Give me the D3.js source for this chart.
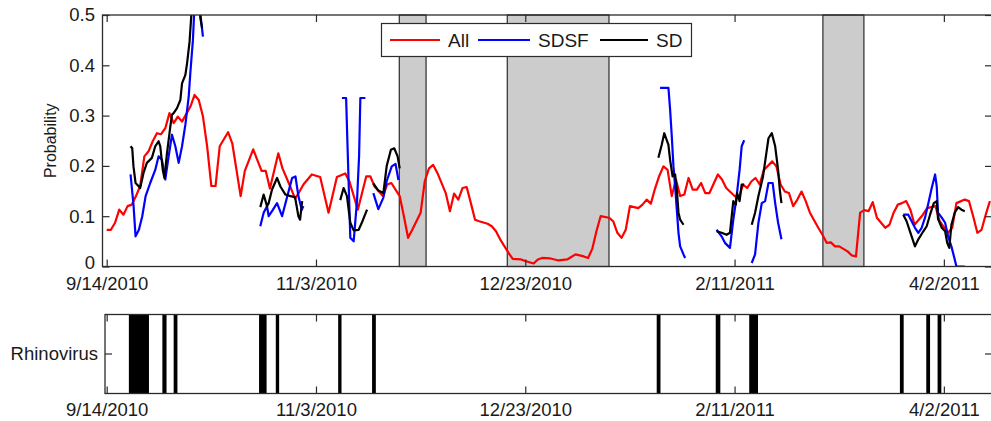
<!DOCTYPE html>
<html><head><meta charset="utf-8">
<script src="https://cdn.jsdelivr.net/npm/d3@7"></script>
<style>
body{margin:0;background:#fff;}
svg{display:block;}
text{font-family:"Liberation Sans",Arial,sans-serif;fill:#1a1a1a;}
</style>
</head><body>
<svg id="chart" width="991" height="421"></svg>
<script>
// ---- data (days are offsets from 9/14/2010) ----
const startDate = Date.UTC(2010, 8, 14);
const tickDays = [0, 50, 100, 150, 200];
const yTicks = [0, 0.1, 0.2, 0.3, 0.4, 0.5];
const shadeStart = [69.9, 95.7, 171.1];
const shadeEnd = [76.3, 120.0, 180.9];

const allDay = [0,1,2,3,4,5,6,7,8,9,10,11,12,13,14,15,16,17,18,20,21,22,23,24,25,26,27,29,30,32,33,35,37,38,39,41,42,44,45,46,47,49,51,53,55,57,58,60,62,63,64,66,67,68,70,71,72,73,75,76,77,78,79,81,82,83,84,85,86,87,88,89,91,92,93,94,96,97,99,100,102,103,104,106,108,110,112,114,115,116,117,118,120,121,122,123,124,125,127,128,129,130,131,132,133,134,135,136,137,138,139,140,141,142,143,144,146,147,148,150,151,152,153,154,155,156,157,159,160,161,162,163,164,165,166,167,168,170,171,172,173,174,175,177,178,179,180,181,182,183,184,186,187,188,189,190,191,192,193,195,196,198,199,201,202,203,205,206,207,208,209,210,211];
const allVal = [0.073,0.073,0.087,0.113,0.103,0.12,0.123,0.14,0.16,0.219,0.229,0.249,0.265,0.263,0.275,0.305,0.285,0.298,0.288,0.318,0.341,0.331,0.298,0.239,0.16,0.16,0.239,0.267,0.245,0.14,0.19,0.233,0.19,0.19,0.155,0.225,0.195,0.156,0.135,0.148,0.163,0.183,0.178,0.107,0.178,0.185,0.169,0.113,0.179,0.179,0.159,0.14,0.163,0.166,0.14,0.1,0.057,0.073,0.107,0.17,0.195,0.202,0.186,0.146,0.11,0.145,0.133,0.156,0.158,0.126,0.093,0.09,0.085,0.08,0.07,0.054,0.027,0.015,0.014,0.011,0.006,0.014,0.017,0.016,0.012,0.014,0.024,0.02,0.017,0.035,0.07,0.1,0.097,0.09,0.067,0.057,0.073,0.12,0.116,0.123,0.133,0.125,0.155,0.18,0.199,0.192,0.14,0.173,0.14,0.143,0.176,0.153,0.153,0.166,0.146,0.146,0.183,0.173,0.156,0.14,0.136,0.163,0.156,0.169,0.176,0.163,0.192,0.209,0.199,0.163,0.149,0.146,0.12,0.133,0.149,0.13,0.107,0.077,0.063,0.047,0.048,0.04,0.04,0.03,0.022,0.02,0.107,0.112,0.11,0.128,0.097,0.077,0.083,0.107,0.123,0.126,0.13,0.113,0.083,0.103,0.116,0.12,0.09,0.067,0.077,0.126,0.133,0.13,0.1,0.067,0.073,0.103,0.13];

// NaN separates the unconnected stretches of a series
const sdsfDay = [5.7,6.4,6.9,7.7,8.5,9.3,10.4,11.6,12.4,13.2,14.0,14.8,15.6,16.4,17.2,18.0,18.8,19.6,20.0,20.6,21.2,22.0,22.4,23.0, 30,
  36.7,37.5,38.3,38.7,39.5,40.7,41.9,43.1,44.3,45.1,45.8,46.6,47.0, 50,
  56.2,57.2,57.5,58.2,59.0,59.8,60.3,60.6,61.8, 62.5,
  63.7,64.9,66.1,66.9,68.1,69.0,69.7, 100,
  132.2,134.2,134.6,135.0,135.4,135.8,136.2,136.6,137.0,137.8,138.2, 140,
  145.7,146.9,147.7,148.9,149.7,150.5,151.2,151.7,152.3, 153,
  154.1,154.9,155.7,156.5,157.3,158.1,159.1,159.7,160.4,161.2, 180,
  190.3,191.5,192.3,193.1,193.9,194.7,195.5,196.3,197.1,197.9,198.3,198.6,199.5,200.3,201.0,201.8,202.6,203.0,205.0];
const sdsfVal = [0.183,0.123,0.06,0.073,0.1,0.14,0.166,0.192,0.219,0.212,0.173,0.219,0.262,0.239,0.206,0.239,0.282,0.338,0.387,0.45,0.56,0.56,0.5,0.457, NaN,
  0.08,0.107,0.12,0.1,0.11,0.126,0.1,0.138,0.176,0.179,0.14,0.113,0.12, NaN,
  0.335,0.335,0.25,0.057,0.05,0.13,0.22,0.335,0.335, NaN,
  0.146,0.114,0.137,0.17,0.199,0.204,0.172, NaN,
  0.355,0.355,0.312,0.259,0.199,0.159,0.113,0.067,0.04,0.024,0.017, NaN,
  0.073,0.06,0.047,0.037,0.093,0.14,0.192,0.239,0.251, NaN,
  0.007,0.024,0.087,0.126,0.13,0.166,0.166,0.126,0.087,0.054, NaN,
  0.103,0.103,0.09,0.077,0.067,0.077,0.097,0.126,0.156,0.183,0.159,0.107,0.097,0.087,0.06,0.04,0.014,0.0,0.0];

const sdDay = [5.7,6.1,6.4,6.9,7.7,8.0,8.8,9.6,10.8,11.6,12.4,12.8,13.4,13.8,14.4,15.2,15.6,16.0,16.8,17.6,18.0,18.8,19.2,19.8,20.2,20.6,21.8,22.4,22.8, 30,
  36.7,37.5,38.3,38.7,39.5,40.7,41.5,42.7,43.9,45.0,45.8,46.2,46.7, 50,
  55.8,56.6,57.4,58.2,59.0,60.2,61.0,62.2, 63,
  63.7,64.9,66.1,66.9,67.9,68.7,69.5,70.0, 100,
  131.8,132.6,133.2,134.2,134.6,135.2,135.8,136.2,136.6,137.0,137.8, 140,
  145.7,146.9,148.1,148.9,149.7,150.3,150.6,151.2,151.7,152.3, 153,
  154.1,154.9,155.7,156.8,157.6,158.1,158.9,159.7,160.4,160.8,161.2, 180,
  190.3,191.1,191.9,193.1,193.9,195.1,195.9,196.7,197.6,198.3,198.6,199.5,200.3,200.8,201.3,201.8,202.6,203.4,204.2,205.0];
const sdVal = [0.239,0.235,0.199,0.166,0.159,0.156,0.186,0.206,0.216,0.239,0.249,0.239,0.192,0.176,0.225,0.278,0.302,0.305,0.315,0.331,0.364,0.381,0.404,0.447,0.497,0.56,0.56,0.493,0.474, NaN,
  0.118,0.143,0.12,0.126,0.153,0.176,0.159,0.143,0.14,0.138,0.1,0.093,0.13, NaN,
  0.132,0.156,0.14,0.087,0.072,0.073,0.088,0.113, NaN,
  0.165,0.151,0.146,0.2,0.232,0.235,0.219,0.195, NaN,
  0.216,0.242,0.265,0.242,0.212,0.179,0.183,0.153,0.107,0.093,0.083, NaN,
  0.07,0.067,0.063,0.067,0.13,0.123,0.146,0.13,0.163,0.163, NaN,
  0.083,0.107,0.14,0.179,0.226,0.255,0.265,0.239,0.192,0.153,0.126, NaN,
  0.103,0.09,0.07,0.04,0.054,0.07,0.08,0.103,0.126,0.13,0.095,0.077,0.07,0.047,0.037,0.083,0.107,0.118,0.113,0.11];

const rhinoStart = [5.3, 13.3, 16.0, 36.4, 40.4, 55.3, 63.4, 131.4, 145.5, 153.5, 189.5, 195.8, 198.5];
const rhinoEnd   = [10.1, 14.3, 16.9, 38.2, 41.2, 56.1, 64.3, 132.3, 146.6, 155.6, 190.4, 196.7, 199.4];

const seriesNames = ["All", "SDSF", "SD"];
const seriesColors = ["#ff0000", "#0000ff", "#000000"];

// ---- layout ----
const dt = d => new Date(startDate + d * 86400000);
const svg = d3.select("#chart");
const pTop = {l: 102.5, r: 992, t: 15, b: 266.5};
const pBot = {l: 105, r: 992, t: 314.5, b: 393.5};
const frameColor = "#2b2b2b";
const fontSize = 18.5;

const x = d3.scaleUtc().domain([dt(-1), dt(211.5)]).range([pTop.l, pTop.r]);
const y = d3.scaleLinear().domain([0, 0.5]).range([pTop.b, pTop.t]);
const fmtDate = d3.utcFormat("%-m/%-d/%Y");
const tickDates = tickDays.map(dt);

svg.append("defs").append("clipPath").attr("id", "clipTop")
  .append("rect").attr("x", pTop.l).attr("y", pTop.t).attr("width", pTop.r - pTop.l).attr("height", pTop.b - pTop.t);

// shaded regions
const gTop = svg.append("g");
gTop.selectAll("rect.shade").data(shadeStart).join("rect").attr("class", "shade")
  .attr("x", (d, i) => x(dt(d))).attr("y", pTop.t)
  .attr("width", (d, i) => x(dt(shadeEnd[i])) - x(dt(d))).attr("height", pTop.b - pTop.t)
  .attr("fill", "#cccccc").attr("stroke", frameColor).attr("stroke-width", 1.2);

// lines
function drawSeries(days, vals, color) {
  const idx = d3.range(days.length);
  const line = d3.line().defined(i => !isNaN(vals[i]))
    .x(i => x(dt(days[i]))).y(i => y(vals[i]));
  gTop.append("path").attr("d", line(idx)).attr("fill", "none")
    .attr("stroke", color).attr("stroke-width", 2.2).attr("stroke-linejoin", "round")
    .attr("clip-path", "url(#clipTop)");
}
drawSeries(allDay, allVal, seriesColors[0]);
drawSeries(sdsfDay, sdsfVal, seriesColors[1]);
drawSeries(sdDay, sdVal, seriesColors[2]);

// axes top panel
function styleAxis(g) {
  g.select(".domain").remove();
  g.selectAll(".tick line").attr("stroke", frameColor).attr("stroke-width", 1.2);
  g.selectAll(".tick text").style("font-size", fontSize + "px").attr("fill", "#1a1a1a");
}
svg.append("g").attr("transform", `translate(0,${pTop.b})`)
  .call(d3.axisBottom(x).tickValues(tickDates).tickFormat(fmtDate).tickSizeInner(-7).tickSizeOuter(0).tickPadding(10))
  .call(styleAxis);
svg.append("g").attr("transform", `translate(0,${pTop.t})`)
  .call(d3.axisTop(x).tickValues(tickDates).tickFormat("").tickSizeInner(-7).tickSizeOuter(0))
  .call(styleAxis);
const yAxisG = svg.append("g").attr("transform", `translate(${pTop.l},0)`)
  .call(d3.axisLeft(y).tickValues(yTicks).tickFormat(d => d === 0 ? "0" : d3.format(".1f")(d)).tickSizeInner(-7).tickSizeOuter(0).tickPadding(7.5))
  .call(styleAxis);
// keep the "0" label clear of the date label beneath it
yAxisG.selectAll(".tick text").filter(d => d === 0).attr("y", -4);
svg.append("g").attr("transform", `translate(${pTop.r},0)`)
  .call(d3.axisRight(y).tickValues(yTicks).tickFormat("").tickSizeInner(-7).tickSizeOuter(0))
  .call(styleAxis);
svg.append("rect").attr("x", pTop.l).attr("y", pTop.t).attr("width", pTop.r - pTop.l).attr("height", pTop.b - pTop.t)
  .attr("fill", "none").attr("stroke", frameColor).attr("stroke-width", 1.3);

svg.append("text").attr("transform", `translate(56,${(pTop.t + pTop.b) / 2}) rotate(-90)`)
  .attr("text-anchor", "middle").style("font-size", "16px").text("Probability");

// legend
const lg = svg.append("g");
lg.append("rect").attr("x", 381.5).attr("y", 23.5).attr("width", 310).attr("height", 33)
  .attr("fill", "#fff").attr("stroke", frameColor).attr("stroke-width", 1.2);
const legX = [390, 478, 600];
const legW = [50, 52, 48];
seriesNames.forEach((n, i) => {
  lg.append("line").attr("x1", legX[i]).attr("x2", legX[i] + legW[i]).attr("y1", 40).attr("y2", 40)
    .attr("stroke", seriesColors[i]).attr("stroke-width", 2.2);
  lg.append("text").attr("x", legX[i] + legW[i] + 8).attr("y", 40).attr("dy", "0.35em")
    .style("font-size", "19px").text(n);
});

// bottom panel
const gBot = svg.append("g");
gBot.selectAll("rect.bar").data(rhinoStart).join("rect").attr("class", "bar")
  .attr("x", d => x(dt(d))).attr("y", pBot.t)
  .attr("width", (d, i) => x(dt(rhinoEnd[i])) - x(dt(d))).attr("height", pBot.b - pBot.t)
  .attr("fill", "#000");
svg.append("g").attr("transform", `translate(0,${pBot.b})`)
  .call(d3.axisBottom(x).tickValues(tickDates).tickFormat(fmtDate).tickSizeInner(-7).tickSizeOuter(0).tickPadding(9.5))
  .call(styleAxis);
svg.append("g").attr("transform", `translate(0,${pBot.t})`)
  .call(d3.axisTop(x).tickValues(tickDates).tickFormat("").tickSizeInner(-7).tickSizeOuter(0))
  .call(styleAxis);
const yb = d3.scaleBand().domain(["Rhinovirus"]).range([pBot.b, pBot.t]);
svg.append("g").attr("transform", `translate(${pBot.l},0)`)
  .call(d3.axisLeft(yb).tickSizeInner(-7).tickSizeOuter(0).tickPadding(7))
  .call(styleAxis);
svg.append("g").attr("transform", `translate(${pBot.r},0)`)
  .call(d3.axisRight(yb).tickFormat("").tickSizeInner(-7).tickSizeOuter(0))
  .call(styleAxis);
svg.append("rect").attr("x", pBot.l).attr("y", pBot.t).attr("width", pBot.r - pBot.l).attr("height", pBot.b - pBot.t)
  .attr("fill", "none").attr("stroke", frameColor).attr("stroke-width", 1.3);
</script>
</body></html>
